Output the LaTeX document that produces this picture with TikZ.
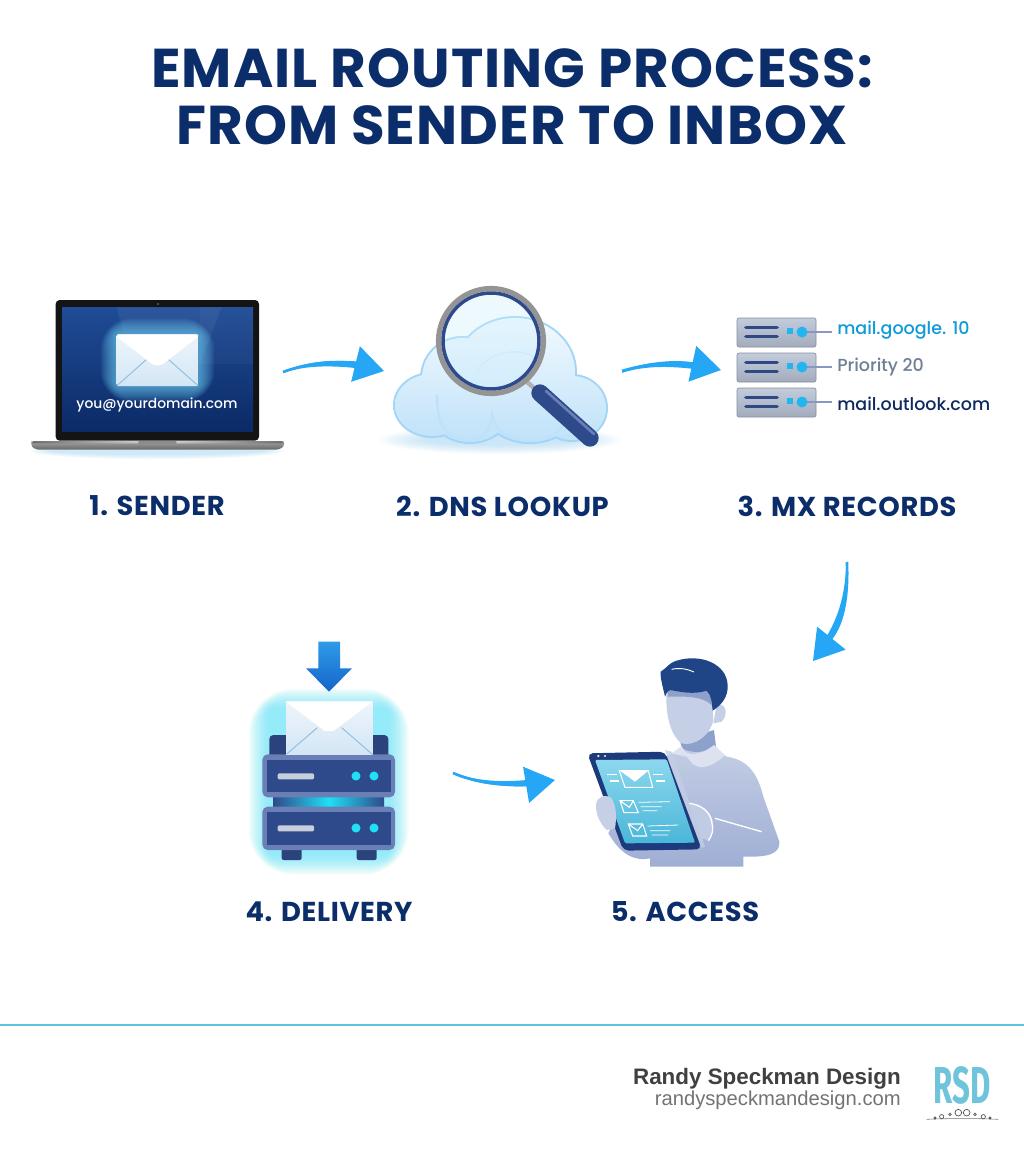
\documentclass[tikz,border=0pt]{standalone}
\usepackage{fontspec}
\setmainfont{Poppins}
\newfontfamily\medfont{Poppins Medium}
\newfontfamily\footfont{Liberation Sans}
\newfontfamily\logofont{Fira Sans}
\usetikzlibrary{arrows.meta,calc}
\definecolor{navy}{HTML}{0B2E6B}
\definecolor{flow}{HTML}{25A7F5}
\definecolor{foot}{HTML}{5FC3E0}
\definecolor{rsd}{HTML}{6FC4DC}
\definecolor{cloudedge}{HTML}{A3D6F6}
\definecolor{rack}{HTML}{B4BFD2}
\definecolor{rackdark}{HTML}{2F4A82}
\definecolor{led}{HTML}{22B5F0}
\definecolor{srvedge}{HTML}{6A7FB6}
\definecolor{srvface}{HTML}{2F4A8A}
\definecolor{cyanled}{HTML}{1FE0F5}
\definecolor{skin}{HTML}{C5CFE6}
\definecolor{shirt}{HTML}{A9B6D8}
\definecolor{hair}{HTML}{1F4586}
\definecolor{tabframe}{HTML}{1C3A7C}
\definecolor{screentop}{HTML}{1F4C96}
\definecolor{screenbot}{HTML}{0B2A66}
\definecolor{envlow}{HTML}{D3E6F5}
\definecolor{envhigh}{HTML}{EEF5FB}
\definecolor{envline}{HTML}{8FBDE0}
\tikzset{
  titletext/.style={font=\fontsize{41}{41}\selectfont\bfseries\addfontfeatures{LetterSpace=2},text=navy,inner sep=0pt},
  steplabel/.style={font=\fontsize{20.5}{21}\selectfont\bfseries\addfontfeatures{LetterSpace=2.5},text=navy,inner sep=0pt},
  mxtext/.style={font=\medfont\fontsize{13.1}{14}\selectfont,inner sep=0pt,anchor=west},
  iconbox/.style={inner sep=0pt,outer sep=0pt,minimum width=#1},
  flowarrow/.style={draw=flow,line width=2pt,-{Triangle[length=22pt,width=27pt]}},
  rackbox/.style={rounded corners=1.5pt,top color=rack!80!white,bottom color=rack!90!black,draw=rack!75!black,line width=.5pt},
  rackbar/.style={draw=rackdark,line width=2.8pt,line cap=round},
  pz/.style={x=.25pt,y=-.25pt}
}
\begin{document}
\begin{tikzpicture}[x=.75pt,y=-.75pt]
\useasboundingbox (0,0) rectangle (1024,1154);
\fill[white] (0,0) rectangle (1024,1154);

% titles
\node[titletext] (title1) at (512,68) {EMAIL ROUTING PROCESS:};
\node[titletext] (title2) at (512,125) {FROM SENDER TO INBOX};

% ---------- laptop
\foreach \i in {1,...,8}{\fill[cloudedge,opacity=.08] (157,451) ellipse ({130-\i*3} and {9-\i*.7});}
\begin{scope}[shift={(0,270)},pz]
\fill[black!92,rounded corners=3pt] (167,90) rectangle (777,512);
\shade[top color=screentop,bottom color=screenbot] (186,112) rectangle (759,484);
\fill[white,opacity=.06] (350,112) -- (665,112) -- (600,282) -- (395,282) -- cycle;
\fill[white,opacity=.03] (600,282) rectangle (759,112);
\fill[black!70] (474,102) circle (1.1pt);
\foreach \i in {16,15,...,1}{\fill[cyan!55!white,opacity=.06,rounded corners={\i*1.4pt+1pt}] ({350-\i*3},{193-\i*3}) rectangle ({595+\i*3},{348+\i*3});}
\shade[rounded corners=1.5pt,top color=envhigh,bottom color=envlow] (350,193) rectangle (595,348);
\draw[envline,line width=.7pt] (352,346) -- (440,268) (593,346) -- (505,268);
\fill[white,rounded corners=1pt] (350,193) -- (595,193) -- (595,200) -- (485,285) -- (460,285) -- (350,200) -- cycle;
\shade[top color=black!35,bottom color=black!60,rounded corners=2pt] (94,513) -- (852,513) -- (852,530) -- (835,539) -- (110,539) -- (94,530) -- cycle;
\shade[left color=black!70,right color=black!70,middle color=white,opacity=.6,rounded corners=2pt] (94,513) -- (852,513) -- (852,520) -- (94,520) -- cycle;
\fill[black!45,rounded corners=1pt] (414,513) rectangle (530,522);
\end{scope}
\node[iconbox=189pt,minimum height=10pt] (sender) at (157,372) {};
\node[font=\medfont\fontsize{10.4}{12}\selectfont,text=white,inner sep=0pt] (addr) at (157,405) {you@yourdomain.com};
\node[steplabel] (lab1) at (157,506) {1. SENDER};

% ---------- cloud
\foreach \i in {1,...,10}{\fill[cloudedge,opacity=.07] (500,440) ellipse ({125-\i*5} and {15-\i});}
\def\cloudpath{(432,405) ellipse (37 and 31) (462,378) ellipse (40 and 40) (515,372) ellipse (60 and 54) (572,408) ellipse (34 and 32) (470,412) ellipse (38 and 30) (530,410) ellipse (45 and 32)}
\draw[cloudedge,line width=3pt] \cloudpath;
\definecolor{cloudlow}{HTML}{BFE2F9}
\definecolor{cloudhigh}{HTML}{F2F9FE}
\shade[top color=cloudhigh,bottom color=cloudlow] \cloudpath;
\draw[cloudedge!70,line width=1.8pt] (437,395) .. controls (437,425) and (445,440) .. (470,440) .. controls (485,440) and (492,425) .. (492,415) .. controls (495,430) and (510,441) .. (530,441) .. controls (550,441) and (560,432) .. (568,418);
\draw[cloudedge!50,line width=1.2pt] (476,372) .. controls (490,350) and (525,345) .. (540,362);
% magnifier
\draw[black!30,line width=3.4pt] (527,382) -- (542,395);
\draw[line cap=round,line width=13pt,draw=srvface] (540,393) -- (590,438);
\draw[line cap=round,line width=2pt,draw=srvedge] (546,391) -- (594,434);
\fill[cyan!20!white,opacity=.35] (491,341) circle (48);
\draw[black!42,line width=3.9pt] (491,341) circle (52.5);
\draw[srvface,line width=2.6pt] (491,341) circle (48);
\node[iconbox=178.5pt,minimum height=10pt] (dns) at (503,371) {};
\node[steplabel] (lab2) at (502.5,506) {2. DNS LOOKUP};

% ---------- MX records
\foreach \yy/\ty/\tc/\name/\txt in {318/330/0F9AD8/m1/mail.google. 10,353/367/6E7F96/m2/Priority 20,388/404/0F2A60/m3/mail.outlook.com}{
  \definecolor{mxc}{HTML}{\tc}
  \draw[rackbox] (737,\yy) rectangle (816,\yy+29);
  \draw[rackbar] (746,\yy+9.5) -- (777,\yy+9.5) (746,\yy+18.5) -- (777,\yy+18.5);
  \fill[led] (787,\yy+10) rectangle (793,\yy+16);
  \draw[srvedge!80,line width=.9pt] (802,\yy+14) -- (832,\yy+14);
  \fill[led] (802,\yy+14) circle (5.5);
  \node[mxtext,text=mxc] (\name) at (837,\ty) {\txt};
}
\node[iconbox=201.75pt,minimum height=10pt] (mx) at (855.5,370) {};
\node[steplabel] (lab3) at (847,506) {3. MX RECORDS};

% ---------- delivery
\begin{scope}[shift={(230,630)},pz]
\foreach \i in {26,25,...,1}{\fill[cyanled!65!white,opacity=.045,rounded corners={\i*1.3pt+1pt}] ({120-\i*2.5},{240-\i*2.5}) rectangle ({472+\i*2.5},{670+\i*2.5});}
\fill[srvface!90!black,rounded corners=3pt] (118,315) rectangle (475,390);
\fill[srvface!90!black,rounded corners=1.5pt] (155,650) rectangle (215,690) (380,650) rectangle (440,690);
\shade[left color=srvface,right color=srvface,middle color=cyanled] (130,495) rectangle (462,535);
\foreach \ya/\yb/\yc in {373/502/0,530/660/156}{
  \fill[srvedge,rounded corners=4pt] (97,\ya) rectangle (495,\yb);
  \fill[srvface] (110,\ya+17) rectangle (482,\yb-15);
  \fill[rack!75!white,rounded corners=1pt] (143,430+\yc) rectangle (252,448+\yc);
  \fill[cyanled] (378,438+\yc) circle (3.4pt) (432,438+\yc) circle (3.4pt);
}
\shade[top color=envhigh,bottom color=envlow] (168,215) rectangle (428,373);
\draw[envline,line width=.7pt] (170,372) -- (262,293) (426,372) -- (335,293);
\fill[white] (168,215) -- (428,215) -- (310,303) -- (284,303) -- cycle;
\definecolor{dnhigh}{HTML}{2E9BE8}
\definecolor{dnlow}{HTML}{1565C8}
\shade[top color=dnhigh,bottom color=dnlow] (265,35) -- (330,35) -- (330,115) -- (366,115) -- (297,185) -- (228,115) -- (265,115) -- cycle;
\end{scope}
\node[iconbox=156pt,minimum height=10pt] (delivery) at (349,773) {};
\node[steplabel] (lab4) at (329,912) {4. DELIVERY};

% ---------- person
\definecolor{shirthigh}{HTML}{C3CDE4}
\definecolor{shirtlow}{HTML}{9FAED4}
\definecolor{neck}{HTML}{8EA0CC}
\definecolor{tabhigh}{HTML}{8CD8EE}
\definecolor{tablow}{HTML}{4AB6D8}
\begin{scope}[shift={(570,640)},pz]
\shade[top color=shirthigh,bottom color=shirtlow] (305,340) .. controls (370,320) and (430,320) .. (470,350) .. controls (540,360) and (565,410) .. (580,470) -- (628,605) .. controls (630,640) and (600,652) .. (520,650) -- (520,680) -- (240,680) -- (240,655) .. controls (190,665) and (150,640) .. (115,580) -- (200,400) -- cycle;
\fill[neck] (330,300) -- (432,270) -- (438,320) .. controls (410,340) and (360,340) .. (335,325) -- cycle;
\fill[skin!60!white] (305,340) -- (335,318) .. controls (345,355) and (395,345) .. (432,315) -- (465,345) .. controls (440,370) and (410,385) .. (385,380) .. controls (365,375) and (360,360) .. (350,350) -- cycle;
\fill[skin] (440,195) .. controls (465,185) and (478,220) .. (455,245) -- (430,250) -- cycle;
\fill[skin] (290,150) .. controls (285,220) and (300,285) .. (335,310) .. controls (370,320) and (420,290) .. (430,240) -- (425,150) -- cycle;
\fill[neck] (295,150) -- (420,150) -- (425,195) .. controls (395,165) and (330,170) .. (293,170) -- cycle;
\fill[hair] (272,95) .. controls (295,80) and (295,70) .. (320,62) .. controls (390,40) and (470,70) .. (473,135) .. controls (475,170) and (455,195) .. (428,212) .. controls (425,190) and (425,165) .. (410,152) .. controls (370,165) and (330,155) .. (300,150) .. controls (290,155) and (287,165) .. (285,170) .. controls (280,145) and (270,115) .. (272,95) -- cycle;
\draw[white,line width=.7pt] (305,88) .. controls (330,82) and (355,88) .. (372,96);
% tablet
\fill[shirthigh,opacity=.8] (285,330) -- (305,335) -- (405,620) -- (395,625) -- cycle;
\fill[tabframe,rounded corners=4pt] (52,340) -- (285,335) -- (395,628) -- (160,632) -- cycle;
\shade[top color=tabhigh,bottom color=tablow,rounded corners=1pt] (75,360) -- (290,358) -- (375,608) -- (165,610) -- cycle;
\fill[envhigh] (85,348) circle (.9pt) (105,348) circle (.9pt);
\begin{scope}[white,line width=.8pt]
\draw (148,392) -- (235,392) -- (248,442) -- (165,442) -- cycle;
\fill (150,392) -- (235,392) -- (195,425) -- cycle;
\draw (112,403) -- (140,403) (120,423) -- (148,423) (250,403) -- (278,403) (258,423) -- (285,423);
\draw (150,482) -- (190,482) -- (205,518) -- (162,518) -- cycle (150,482) -- (178,502) -- (190,482);
\draw (175,552) -- (218,552) -- (230,588) -- (188,588) -- cycle (175,552) -- (203,572) -- (218,552);
\draw[line width=.6pt] (205,487) -- (300,485) (212,500) -- (275,500) (218,512) -- (262,512);
\draw[line width=.6pt] (232,558) -- (325,555) (240,572) -- (300,572) (245,585) -- (295,585);
\end{scope}
% hands
\fill[skin] (78,495) .. controls (80,470) and (105,460) .. (125,475) .. controls (140,500) and (140,535) .. (135,565) -- (110,570) .. controls (90,550) and (78,525) .. (78,495) -- cycle;
\fill[skin,opacity=.85] (358,490) .. controls (395,495) and (420,515) .. (430,545) -- (418,602) -- (395,595) -- cycle;
\draw[white,line width=1pt] (358,490) .. controls (395,495) and (420,515) .. (425,545) .. controls (433,565) and (425,590) .. (415,602);
\draw[white,line width=1pt] (435,535) -- (575,575);
\end{scope}
\node[iconbox=150pt,minimum height=10pt] (access) at (655,780) {};
\coordinate (accessin) at (813,661);
\node[steplabel] (lab5) at (685,912) {5. ACCESS};

% ---------- connectors
\draw[flowarrow] (sender.east) .. controls (305,364) and (335,359) .. (dns.west);
\draw[flowarrow] (dns.east) .. controls (645,364) and (675,360) .. (mx.west);
\draw[flowarrow,shorten <=34pt] (lab3.south) .. controls (847,570) and (850,615) .. (accessin);
\draw[flowarrow] (delivery.east) .. controls (485,787) and (525,785) .. (access.west);
% swelling of the arrow shafts towards their heads
\foreach \xa/\ya/\xb/\yb/\xc/\yc/\xd/\yd/\nx/\ny in {283/372/300.6/365.6/323.3/361.1/365.6/365.6/0/1,622/372/640.4/365.6/663.3/361.8/703.2/366.6/0/1,847/562/847/590/843/615/828/640/1/0,453/773/478.6/784.2/509.3/785.2/542.6/781.9/0/1}{
  \fill[flow] ({\xa-.8*\nx},{\ya-.8*\ny}) .. controls ({\xb-1.5*\nx},{\yb-1.5*\ny}) and ({\xc-2.6*\nx},{\yc-2.6*\ny}) .. ({\xd-3.6*\nx},{\yd-3.6*\ny}) -- ({\xd+3.6*\nx},{\yd+3.6*\ny}) .. controls ({\xc+2.6*\nx},{\yc+2.6*\ny}) and ({\xb+1.5*\nx},{\yb+1.5*\ny}) .. ({\xa+.8*\nx},{\ya+.8*\ny}) -- cycle;
}

% ---------- footer
\draw[foot,line width=1.9pt] (0,1025) -- (1024,1025);
\node[font=\footfont\bfseries\fontsize{16.8}{18}\selectfont,text=black!75,anchor=east,inner sep=0pt] (brand) at (901,1079) {Randy Speckman Design};
\node[font=\footfont\fontsize{15.15}{16}\selectfont,text=black!55,anchor=east,inner sep=0pt] (site) at (901,1100.5) {randyspeckmandesign.com};
\node[font=\logofont\bfseries\fontsize{39}{40}\selectfont,text=rsd,inner sep=0pt,xscale=.6] (logo) at (962,1085) {RSD};
\begin{scope}[shift={(620,1050)},pz]
\draw[black!55,line width=.4pt] (920,208) .. controls (980,205) and (1080,205) .. (1135,208);
\draw[black!70,line width=.5pt] (1015,188) circle (2.5pt) (1040,188) circle (2.5pt) (965,200) circle (1.6pt) (1090,200) circle (1.6pt) (990,193) circle (1pt) (1065,193) circle (1pt) (945,204) circle (.8pt) (1110,204) circle (.8pt);
\end{scope}
\end{tikzpicture}
\end{document}
